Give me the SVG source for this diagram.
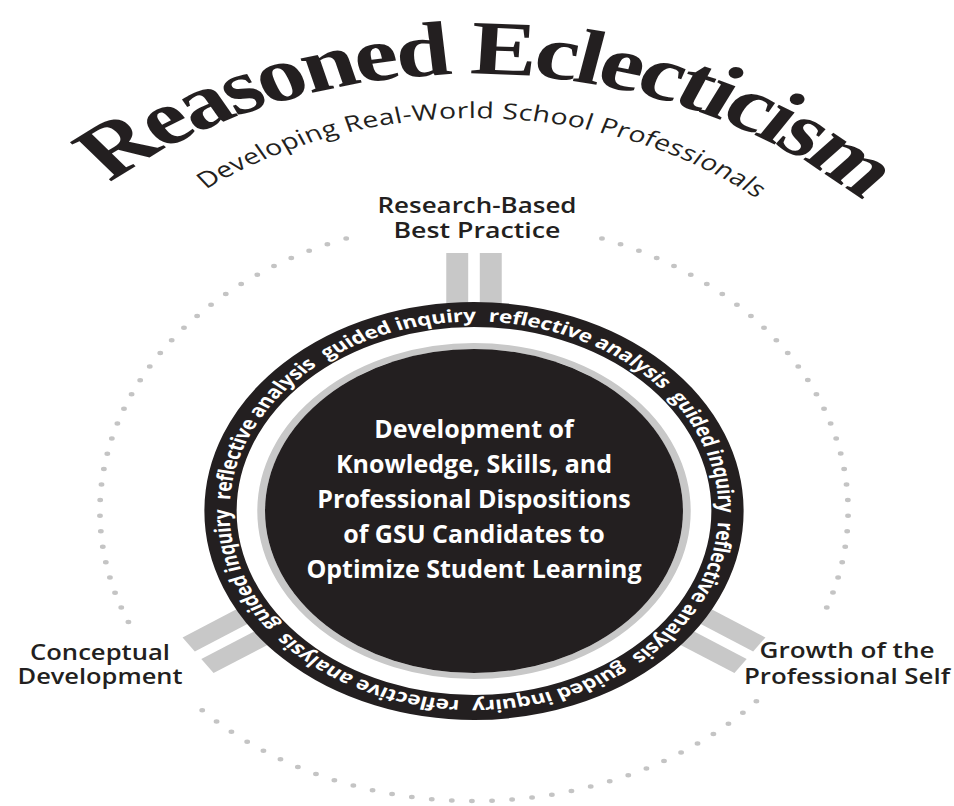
<svg xmlns="http://www.w3.org/2000/svg" width="954" height="806" viewBox="0 0 954 806">
<style>
.lbl{font-family:"Open Sans","Liberation Sans",sans-serif;font-weight:600;font-size:22px;fill:#231f20;text-anchor:middle}
.ctr{font-family:"Open Sans","Liberation Sans",sans-serif;font-weight:700;font-size:25px;fill:#ffffff;text-anchor:middle}
.ring{font-family:"Open Sans","Liberation Sans",sans-serif;font-weight:700;font-size:17.5px;fill:#ffffff;letter-spacing:-0.2px;text-anchor:middle}
.title{font-family:"Liberation Serif","Times New Roman",serif;font-weight:700;font-size:77px;fill:#231f20;letter-spacing:-3.3px;text-anchor:middle}
.sub{font-family:"Open Sans","Liberation Sans",sans-serif;font-weight:400;font-size:22px;fill:#231f20;letter-spacing:0.3px;text-anchor:middle}
.dots{fill:none;stroke:#c4c4c4;stroke-width:4.5;stroke-linecap:round;stroke-dasharray:0 15.6}
.bar{fill:#c8c8c8}
</style>
<defs>
<path id="titleArc" d="M -420,494 A 420 420 0 0 1 420,494"/>
<path id="subArc" d="M -338,456 A 338 338 0 0 1 338,456"/>
<path id="ringPath" d="M 189.5,511 A 189.5 189.5 0 1 1 -189.5,511 A 189.5 189.5 0 1 1 189.5,511"/>
</defs>
<rect width="954" height="806" fill="#ffffff"/>
<g transform="translate(474,0) scale(1.29,1)">
  <g id="title">
    <text class="title"><textPath href="#titleArc" startOffset="671">Reasoned Eclecticism</textPath></text>
  </g>
  <g id="subtitle">
    <text class="sub"><textPath href="#subArc" startOffset="538">Developing Real-World School Professionals</textPath></text>
  </g>
  <g id="connectors">
    <path class="dots" d="M 99.2,238.5 A 290 290 0 0 1 268.9,619.6"/>
    <path class="dots" d="M 218.9,701.3 A 290 290 0 0 1 -218.9,701.3"/>
    <path class="dots" d="M -267.9,622 A 290 290 0 0 1 -84.8,233.7"/>
    <g transform="translate(0,511) rotate(-90)"><rect class="bar" x="196" y="-21.5" width="62" height="17"/><rect class="bar" x="196" y="4.5" width="62" height="17"/></g>
    <g transform="translate(0,511) rotate(34)"><rect class="bar" x="196" y="-21.5" width="62" height="17"/><rect class="bar" x="196" y="4.5" width="62" height="17"/></g>
    <g transform="translate(0,511) rotate(146)"><rect class="bar" x="196" y="-21.5" width="62" height="17"/><rect class="bar" x="196" y="4.5" width="62" height="17"/></g>
  </g>
  <g id="core">
    <circle cx="0" cy="511" r="196.5" fill="none" stroke="#231f20" stroke-width="25"/>
    <circle cx="0" cy="511" r="165" fill="none" stroke="#c8c8c8" stroke-width="6"/>
    <circle cx="0" cy="511" r="162" fill="#231f20"/>
    <text class="ring"><textPath href="#ringPath" startOffset="82.42%">reflective analysis</textPath></text>
    <text class="ring"><textPath href="#ringPath" startOffset="94.92%">guided inquiry</textPath></text>
    <text class="ring"><textPath href="#ringPath" startOffset="7.42%">reflective analysis</textPath></text>
    <text class="ring"><textPath href="#ringPath" startOffset="19.92%">guided inquiry</textPath></text>
    <text class="ring"><textPath href="#ringPath" startOffset="32.42%">reflective analysis</textPath></text>
    <text class="ring"><textPath href="#ringPath" startOffset="44.92%">guided inquiry</textPath></text>
    <text class="ring"><textPath href="#ringPath" startOffset="57.42%">reflective analysis</textPath></text>
    <text class="ring"><textPath href="#ringPath" startOffset="69.92%">guided inquiry</textPath></text>
  </g>
</g>
<g id="center-text">
  <text class="ctr" x="474" y="438">Development of</text>
  <text class="ctr" x="474" y="473">Knowledge, Skills, and</text>
  <text class="ctr" x="474" y="508">Professional Dispositions</text>
  <text class="ctr" x="474" y="543">of GSU Candidates to</text>
  <text class="ctr" x="474" y="578">Optimize Student Learning</text>
</g>
<g id="label-research">
  <text class="lbl" x="477" y="213" textLength="199" lengthAdjust="spacingAndGlyphs">Research-Based</text>
  <text class="lbl" x="477" y="238" textLength="167" lengthAdjust="spacingAndGlyphs">Best Practice</text>
</g>
<g id="label-conceptual">
  <text class="lbl" x="100" y="660" textLength="140" lengthAdjust="spacingAndGlyphs">Conceptual</text>
  <text class="lbl" x="100" y="684" textLength="165" lengthAdjust="spacingAndGlyphs">Development</text>
</g>
<g id="label-growth">
  <text class="lbl" x="847" y="658" textLength="175" lengthAdjust="spacingAndGlyphs">Growth of the</text>
  <text class="lbl" x="847" y="684" textLength="206" lengthAdjust="spacingAndGlyphs">Professional Self</text>
</g>
</svg>
